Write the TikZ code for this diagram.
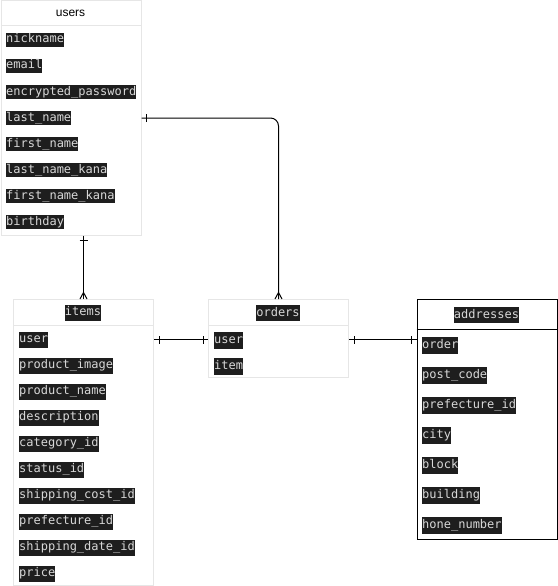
\documentclass[tikz,border=0pt]{standalone}
\usepackage{fontspec}
\setmainfont{Liberation Sans}
\newfontfamily\codefont{DejaVu Sans Mono}
\usetikzlibrary{positioning,decorations.markings}
\definecolor{tblline}{HTML}{E6E6E6}
\definecolor{codebg}{HTML}{1E1E1E}
\definecolor{codefg}{HTML}{D8D8D8}
\tikzset{
    tbl/.style={draw=tblline, line width=1pt, anchor=north west, minimum width=140pt, inner sep=0pt},
    fld/.style={fill=codebg, text=codefg, font=\codefont\fontsize{12}{14}\selectfont,
        inner xsep=0pt, inner ysep=1.5pt, text height=8.5pt, text depth=2.5pt},
    rel/.style={draw, line width=1pt, postaction=decorate},
    one-one/.style={rel, decoration={markings,
        mark=at position 5pt with {\draw[line width=1pt] (0,-4pt) -- (0,4pt);},
        mark=at position -5pt with {\draw[line width=1pt] (0,-4pt) -- (0,4pt);}}},
    one-many/.style={rel, decoration={markings,
        mark=at position 5pt with {\draw[line width=1pt] (0,-4pt) -- (0,4pt);},
        mark=at position -6.5pt with {\draw[line width=1pt] (0,0) -- (6.5pt,-3.5pt) (0,0) -- (6.5pt,3.5pt);}}}
}
\begin{document}
\begin{tikzpicture}[x=1pt,y=-1pt]
        \useasboundingbox (0,0) rectangle (557,586);
        \node[tbl, minimum height=234pt] (users) at (0.5,0.5) {};
        \node[tbl, minimum height=286pt] (items) at (13,299) {};
        \node[tbl, minimum height=78pt] (orders) at (208,299) {};
        \node[tbl, draw=black, minimum height=240pt] (addresses) at (416.5,299) {};
        \draw[tblline, line width=1pt] (users.north west) ++(0,25.5) -- ++(140,0);
        \draw[tblline, line width=1pt] (items.north west) ++(0,26.5) -- ++(140,0);
        \draw[tblline, line width=1pt] (orders.north west) ++(0,26) -- ++(140,0);
        \draw[line width=1pt] (addresses.north west) ++(0,30) -- ++(140,0);
        \node[font=\fontsize{12}{14}\selectfont] (users-title) at (70.5,13) {users};
        \node[fld, inner ysep=2.5pt] (items-title) at (83,312.5) {items};
        \node[fld, inner ysep=2.5pt] (orders-title) at (278,313) {orders};
        \node[fld, inner ysep=2.5pt] (addresses-title) at (486.5,315) {addresses};
        \foreach \f [count=\i] in {nickname,email,encrypted\_password,last\_name,first\_name,last\_name\_kana,first\_name\_kana,birthday}
            \node[fld, anchor=west] (users-\i) at (6,14+26*\i) {\f};
        \foreach \f [count=\i] in {user,product\_image,product\_name,description,category\_id,status\_id,shipping\_cost\_id,prefecture\_id,shipping\_date\_id,price}
            \node[fld, anchor=west, inner ysep=2.5pt] (items-\i) at (19,313.5+26*\i) {\f};
        \foreach \f [count=\i] in {user,item}
            \node[fld, anchor=west, inner ysep=3pt] (orders-\i) at (214,314.3+26*\i) {\f};
        \foreach \f [count=\i] in {order,post\_code,prefecture\_id,city,block,building,hone\_number}
            \node[fld, anchor=west, inner ysep=3.2pt] (addresses-\i) at (422,315.3+30*\i) {\f};
        \draw[one-many] (items.north |- users.south) -- (items.north);
        \draw[one-many, rounded corners=8pt] (users.east |- users-4) -- (orders.north |- users-4) -- (orders.north);
        \draw[one-one] (items.east |- items-1) -- (orders.west |- items-1);
        \draw[one-one] (orders.east |- items-1) -- (addresses.west |- items-1);
    \end{tikzpicture}
\end{document}
